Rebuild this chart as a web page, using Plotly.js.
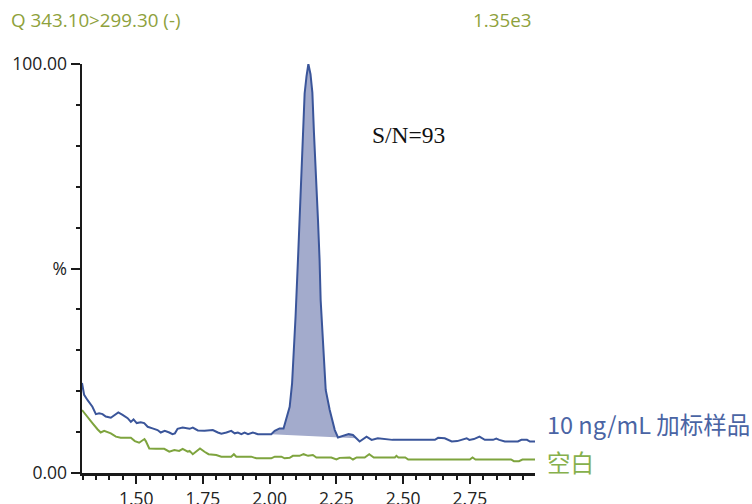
<!DOCTYPE html>
<html><head><meta charset="utf-8">
<script src="https://cdn.plot.ly/plotly-3.0.1.min.js"></script>
<style>html,body{margin:0;padding:0;background:#fff}#chart{width:752px;height:504px}</style>
</head><body><div id="chart"></div>
<script>
// Retention time (min) and relative intensity (%) for the spiked sample
const blueTime = [1.297,1.305,1.318,1.336,1.349,1.361,1.374,1.386,1.405,1.418,1.433,1.449,1.468,1.480,1.490,1.502,1.517,1.530,1.543,1.561,1.580,1.592,1.607,1.624,1.636,1.645,1.655,1.674,1.693,1.700,1.712,1.731,1.756,1.775,1.787,1.806,1.819,1.838,1.856,1.869,1.881,1.894,1.906,1.919,1.937,1.956,2.006,2.019,2.037,2.052,2.063,2.075,2.084,2.091,2.097,2.106,2.112,2.119,2.125,2.131,2.138,2.145,2.153,2.160,2.166,2.175,2.181,2.187,2.191,2.198,2.204,2.210,2.225,2.244,2.256,2.281,2.296,2.312,2.325,2.337,2.363,2.382,2.405,2.444,2.460,2.619,2.631,2.656,2.682,2.703,2.738,2.748,2.765,2.786,2.806,2.837,2.849,2.860,2.881,2.930,2.943,2.964,2.975,2.994];
const blueIntensity = [22.0,19.1,17.8,16.2,14.4,14.6,14.4,13.8,13.5,14.2,14.8,14.2,13.4,12.5,13.1,12.2,12.4,12.2,11.3,10.9,10.5,9.9,10.3,9.9,9.5,9.7,10.8,11.1,10.9,10.8,11.1,10.4,10.3,10.4,10.5,9.9,9.6,9.9,10.3,9.7,9.9,9.5,9.9,9.5,9.9,9.5,9.5,10.3,10.9,10.9,13.4,16.2,21.9,30.1,38.2,52.1,61.9,71.6,83.1,92.8,97.0,100,97.5,93.0,83.1,71.6,61.9,52.1,42.3,34.2,26.0,20.3,15.4,10.5,8.7,9.2,9.5,9.3,8.5,7.7,8.9,8.1,8.5,8.3,8.1,8.1,8.6,8.5,7.7,7.8,8.5,8.1,8.3,8.9,8.1,8.1,8.4,8.1,7.7,7.7,8.1,8.1,7.7,7.7];
// Blank
const greenTime = [1.297,1.318,1.336,1.355,1.367,1.380,1.393,1.405,1.424,1.442,1.480,1.495,1.511,1.524,1.531,1.536,1.549,1.574,1.605,1.624,1.643,1.661,1.674,1.693,1.700,1.712,1.725,1.739,1.756,1.771,1.800,1.819,1.856,1.866,1.875,1.931,1.950,2.006,2.019,2.044,2.056,2.075,2.087,2.112,2.127,2.144,2.162,2.175,2.231,2.250,2.262,2.300,2.312,2.326,2.356,2.373,2.390,2.469,2.475,2.482,2.508,2.519,2.750,2.760,2.771,2.904,2.915,2.934,2.947,2.994];
const greenIntensity = [15.4,13.8,12.2,10.7,9.9,10.3,9.9,9.7,8.9,8.6,8.6,7.8,7.4,8.1,8.3,7.8,6.0,5.9,5.9,5.2,5.6,5.4,5.9,5.2,5.4,4.6,5.2,6.0,5.2,4.6,4.4,4.0,4.0,4.6,4.0,4.0,3.6,3.6,4.0,4.0,3.6,3.7,4.2,4.2,4.6,4.2,4.4,3.8,3.8,3.3,3.7,3.8,3.3,3.8,3.8,4.6,3.8,3.8,4.2,3.8,3.8,3.3,3.3,3.8,3.3,3.3,2.9,2.9,3.3,3.3];
// Integration baseline of the peak
const baselineTime = [2.006, 2.325];
const baselineIntensity = [9.5, 8.5];

const xTickVals = [1.50,1.75,2.00,2.25,2.50,2.75];
const xTickText = ['1.50','1.75','2.00','2.25','2.50','2.75'];
const yTickVals = [0,50,100];
const yTickText = ['0.00','%','100.00'];
const channelLabel = 'Q 343.10>299.30 (-)';
const maxIntensityLabel = '1.35e3';
const snLabel = 'S/N=93';
const seriesNames = ['10 ng/mL 加标样品','空白'];

const blueColor = '#3a559a', greenColor = '#7ea43e', fillColor = '#a3abcc';

// Build peak area polygon from the baseline and the signal points inside it
const fillT = [baselineTime[0]], fillV = [baselineIntensity[0]];
blueTime.forEach((t,i)=>{ if(t>baselineTime[0] && t<baselineTime[1]){ fillT.push(t); fillV.push(blueIntensity[i]); } });
fillT.push(baselineTime[1]); fillV.push(baselineIntensity[1]);

const traces = [
  {x: fillT, y: fillV, mode:'lines', fill:'toself', fillcolor: fillColor, line:{width:0, color:fillColor}, hoverinfo:'skip', showlegend:false},
  {x: greenTime, y: greenIntensity, name: seriesNames[1], mode:'lines', line:{color:greenColor, width:2}},
  {x: blueTime, y: blueIntensity, name: seriesNames[0], mode:'lines', line:{color:blueColor, width:2}}
];

const axisCommon = {
  showline:true, linecolor:'#1a1a1a', linewidth:2.5, showgrid:false, zeroline:false,
  ticks:'outside', tickwidth:2, tickcolor:'#1a1a1a', tickmode:'array',
  tickfont:{family:'Open Sans', size:17.5, color:'#222'}
};

const layout = {
  width:752, height:504,
  margin:{l:82, r:217, t:64, b:31},
  paper_bgcolor:'#fff', plot_bgcolor:'#fff',
  showlegend:false,
  font:{family:'Open Sans', size:17.5, color:'#222'},
  xaxis: Object.assign({}, axisCommon, {
    range:[1.297, 2.994], tickvals:xTickVals, ticktext:xTickText, ticklen:8,
    minor:{tickmode:'linear', tick0:0, dtick:0.05, ticks:'outside', ticklen:4, tickwidth:2, tickcolor:'#1a1a1a'}
  }),
  yaxis: Object.assign({}, axisCommon, {
    range:[0, 100], tickvals:yTickVals, ticktext:yTickText, ticklen:9,
    minor:{tickmode:'linear', tick0:0, dtick:10, ticks:'outside', ticklen:4, tickwidth:2, tickcolor:'#1a1a1a'}
  }),
  annotations:[
    {xref:'paper', yref:'paper', x:-0.162, y:1.1076, xanchor:'left', yanchor:'middle', showarrow:false,
     text:channelLabel, font:{family:'Open Sans', size:18.8, color:'#8ea13c'}},
    {xref:'paper', yref:'paper', x:0.995, y:1.1076, xanchor:'right', yanchor:'middle', showarrow:false,
     text:maxIntensityLabel, font:{family:'Open Sans', size:18.8, color:'#8ea13c'}},
    {xref:'paper', yref:'paper', x:0.636, y:0.826, xanchor:'left', yanchor:'middle', showarrow:false,
     text:snLabel, font:{family:'Liberation Serif', size:23.5, color:'#111'}},
    {xref:'paper', yref:'paper', x:1.022, y:0.12, xanchor:'left', yanchor:'middle', showarrow:false,
     text:seriesNames[0], font:{family:'Noto Sans CJK SC', size:23.5, color:'#4a64a4'}},
    {xref:'paper', yref:'paper', x:1.022, y:0.028, xanchor:'left', yanchor:'middle', showarrow:false,
     text:seriesNames[1], font:{family:'Noto Sans CJK SC', size:23.5, color:'#86b04c'}}
  ]
};

Plotly.newPlot('chart', traces, layout, {displayModeBar:false, staticPlot:true});
</script>
</body></html>
